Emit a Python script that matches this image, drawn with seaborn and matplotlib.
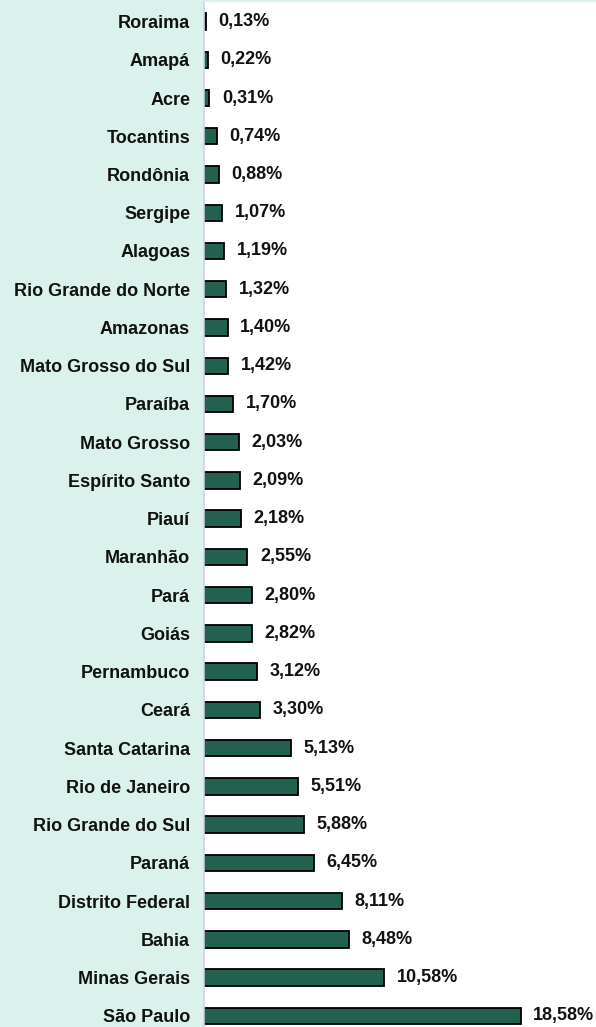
import matplotlib
matplotlib.use("Agg")
import matplotlib.pyplot as plt
import seaborn as sns
import numpy as np

# dados: participação por estado (%)
estados = [
    "Roraima", "Amapá", "Acre", "Tocantins", "Rondônia", "Sergipe", "Alagoas",
    "Rio Grande do Norte", "Amazonas", "Mato Grosso do Sul", "Paraíba",
    "Mato Grosso", "Espírito Santo", "Piauí", "Maranhão", "Pará", "Goiás",
    "Pernambuco", "Ceará", "Santa Catarina", "Rio de Janeiro",
    "Rio Grande do Sul", "Paraná", "Distrito Federal", "Bahia",
    "Minas Gerais", "São Paulo",
]
valores = [
    0.13, 0.22, 0.31, 0.74, 0.88, 1.07, 1.19, 1.32, 1.40, 1.42, 1.70, 2.03,
    2.09, 2.18, 2.55, 2.80, 2.82, 3.12, 3.30, 5.13, 5.51, 5.88, 6.45, 8.11,
    8.48, 10.58, 18.58,
]

sns.set_style("white")
plt.rcParams["font.family"] = ["Liberation Sans", "DejaVu Sans"]

fig = plt.figure(figsize=(5.96, 10.27), dpi=100)
fig.patch.set_facecolor("#DAF2EB")
ax = fig.add_axes([204 / 596, 0, 392 / 596, 1024.6 / 1027])
ax.set_facecolor("white")

sns.barplot(x=valores, y=estados, orient="h", color="#22604F",
            saturation=1, edgecolor="black", linewidth=1.3, width=0.43, ax=ax)

ax.bar_label(ax.containers[0],
             labels=[f"{v:.2f}".replace(".", ",") + "%" for v in valores],
             padding=9, fontsize=13, fontweight="bold", color="#111111")

ax.set_xlabel("")
ax.set_ylabel("")
ax.set_xticks([])

for s in ["top", "right", "bottom"]:
    ax.spines[s].set_visible(False)
ax.spines["left"].set_color("#D2D2EA")
ax.spines["left"].set_linewidth(1.2)

# marcas pequenas entre as categorias
ax.set_yticks(np.arange(-0.5, len(estados), 1), minor=True)
ax.tick_params(axis="y", which="major", length=0, pad=10,
               labelsize=13, labelcolor="#111111")
ax.tick_params(axis="y", which="minor", length=4, color="#D2D2EA", width=1)
for t in ax.get_yticklabels():
    t.set_fontweight("bold")

# limites depois dos ticks (set_yticks estende os limites)
ax.set_xlim(0, 23)
ax.set_ylim(26.29, -0.5)

fig.savefig("out.png", dpi=100, facecolor=fig.get_facecolor())
